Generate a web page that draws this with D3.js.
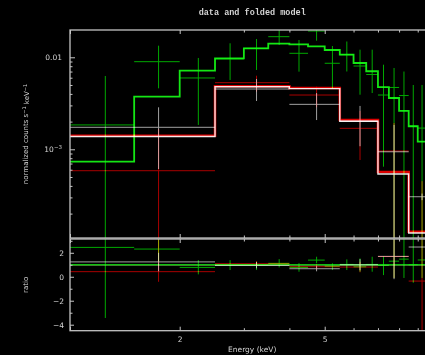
<!DOCTYPE html>
<html><head><meta charset="utf-8">
<script src="https://cdn.jsdelivr.net/npm/d3@7"></script>
<style>
html,body{margin:0;padding:0;background:#000;overflow:hidden;}
svg{display:block;background:#000;}
text{fill:#d4d4d4;}
.mark{mix-blend-mode:screen;}
</style></head><body>
<svg id="c" width="425" height="355"></svg>
<script>
// ---------- data ----------
const titleText = "data and folded model";
const xLabelText = "Energy (keV)";
const ratioLabelText = "ratio";

const energyMajor = [1, 2, 5, 10];
const energyLabeled = [2, 5];
const energyMinor = [3, 4, 6, 7, 8, 9];
const countMajor = [0.01, 0.001];
const countMinor = [0.009,0.008,0.007,0.006,0.005,0.004,0.003,0.002,
                    9e-4,8e-4,7e-4,6e-4,5e-4,4e-4,3e-4,2e-4];
const ratioMajor = [-4, -2, 0, 2];
const ratioMinor = [-3, -1, 1, 3];
const energyRange = [1, 10];
const countRange = [1.086e-4, 0.0198];
const ratioRange = [-4.5, 3.15];

// dataset 1 (grey)
const greyLo  = [1.0, 2.5, 4.0, 5.5, 7.0, 8.5];
const greyHi  = [2.5, 4.0, 5.5, 7.0, 8.5, 10.0];
const greyVal = [1.734e-3, 4.52e-3, 3.08e-3, 2.02e-3, 9.4e-4, 3.05e-4];
const greyUp  = [2.86e-3, 5.81e-3, 4.08e-3, 2.96e-3, 1.84e-3, 3.3e-4];
const greyDn  = [6.1e-4, 3.35e-3, 2.08e-3, 1.08e-3, 0, 2.8e-4];
const greyMod = [1.377e-3, 4.78e-3, 4.57e-3, 2.015e-3, 5.39e-4, 1.23e-4];
const greyRat   = [1.24, 0.946, 0.67, 1.0, 1.70, 2.48];
const greyRatUp = [2.0, 1.22, 0.89, 1.47, 3.4, 2.5];
const greyRatDn = [0.45, 0.70, 0.455, 0.54, -0.2, 2.46];

// dataset 2 (red)
const redLo  = [1.0, 2.5, 4.0, 5.5, 7.0, 8.5];
const redHi  = [2.5, 4.0, 5.5, 7.0, 8.5, 10.0];
const redVal = [5.85e-4, 5.3e-3, 3.89e-3, 1.69e-3, 9.58e-4, -5e-5];
const redUp  = [1.66e-3, 6.31e-3, 4.79e-3, 2.61e-3, 1.93e-3, 4.5e-4];
const redDn  = [0, 4.23e-3, 2.86e-3, 7.65e-4, 0, 0];
const redMod = [1.402e-3, 4.85e-3, 4.63e-3, 2.08e-3, 5.67e-4, 1.27e-4];
const redRat   = [0.425, 1.09, 0.84, 0.81, 1.69, -0.36];
const redRatUp = [3.6, 1.30, 1.03, 1.25, 3.4, 3.6];
const redRatDn = [-0.42, 0.87, 0.62, 0.37, -0.1, -4.8];

// dataset 3 (green)
const greenLo  = [1.0,1.5,2.0,2.5,3.0,3.5,4.0,4.5,5.0,5.5,6.0,6.5,7.0,7.5,8.0,8.5,9.0,9.5];
const greenHi  = [1.5,2.0,2.5,3.0,3.5,4.0,4.5,5.0,5.5,6.0,6.5,7.0,7.5,8.0,8.5,9.0,9.5,10.0];
const greenVal = [1.84e-3,8.96e-3,5.96e-3,9.58e-3,1.253e-2,1.675e-2,1.105e-2,1.93e-2,8.61e-3,1.067e-2,
                  8.04e-3,6.5e-3,3.89e-3,4.7e-3,3.84e-3,1.78e-3,1.7e-3,8.7e-4];
const greenUp  = [6.26e-3,1.337e-2,9.83e-3,1.42e-2,1.58e-2,2.1e-2,1.542e-2,2.4e-2,1.327e-2,1.485e-2,
                  1.21e-2,1.21e-2,8.31e-3,7.65e-3,7.0e-3,5.0e-3,5.0e-3,3.0e-3];
const greenDn  = [0,4.6e-3,1.84e-3,5.67e-3,7.28e-3,1.36e-2,6.98e-3,1.515e-2,4.6e-3,7.01e-3,
                  3.92e-3,4.09e-3,6.47e-4,0,0,0,0,0];
const greenMod = [7.33e-4,3.73e-3,7.15e-3,9.75e-3,1.253e-2,1.405e-2,1.38e-2,1.317e-2,1.2e-2,1.067e-2,
                  8.67e-3,7.05e-3,4.75e-3,3.61e-3,2.61e-3,1.78e-3,1.21e-3,8.67e-4];
const greenRat   = [2.45,2.31,0.78,0.975,0.98,1.12,0.78,1.39,0.89,1.03,0.83,1.03,0.95,1.3,1.47,1.0,1.4,1.0];
const greenRatUp = [3.6,3.4,1.39,1.39,1.25,1.47,1.14,1.67,1.12,1.45,1.53,1.67,1.67,3.6,3.6,3.6,3.6,3.6];
const greenRatDn = [-3.44,1.25,0.2,0.56,0.56,0.78,0.42,1.12,0.56,0.56,0.42,0.42,0.14,-0.1,-0.1,-0.5,-0.1,-1];

// ---------- layout ----------
const L = 70, R = 434.4, T1 = 30, B1 = 238, T2 = 239, B2 = 330.7;
const frameColor = "#c4c4c4";
const svg = d3.select("#c");

const x  = d3.scaleLog().domain(energyRange).range([L, R]);
const yC = d3.scaleLog().domain(countRange).range([B1, T1]);
const yR = d3.scaleLinear().domain(ratioRange).range([B2, T2]);

const defs = svg.append("defs");
defs.append("clipPath").attr("id","clipTop").append("rect")
  .attr("x", L).attr("y", T1).attr("width", R - L).attr("height", B1 - T1);
defs.append("clipPath").attr("id","clipBot").append("rect")
  .attr("x", L).attr("y", T2).attr("width", R - L).attr("height", B2 - T2);

const yCsafe = v => v > 0 ? yC(v) : B1 + 20;

const datasets = [
  {lo:greyLo, hi:greyHi, val:greyVal, up:greyUp, dn:greyDn, mod:greyMod,
   rat:greyRat, rup:greyRatUp, rdn:greyRatDn, dcol:"#a0a0a0", mcol:"#e6e6e6", rcol:"#8a8a8a", mw:1.4},
  {lo:redLo, hi:redHi, val:redVal, up:redUp, dn:redDn, mod:redMod,
   rat:redRat, rup:redRatUp, rdn:redRatDn, dcol:"#a80000", mcol:"#dd0000", rcol:"#a00000", mw:2.6},
  {lo:greenLo, hi:greenHi, val:greenVal, up:greenUp, dn:greenDn, mod:greenMod,
   rat:greenRat, rup:greenRatUp, rdn:greenRatDn, dcol:"#00a800", mcol:"#14e614", rcol:"#10c010", mw:1.8}
];

const gTop = svg.append("g").attr("clip-path","url(#clipTop)");
const gBot = svg.append("g").attr("clip-path","url(#clipBot)");

const line = d3.line();

// data crosses
function crosses(g, ds, yf, valKey, upKey, dnKey) {
  const grp = g.append("g").attr("class","mark");
  ds.lo.forEach((lo, i) => {
    const hi = ds.hi[i], c = (lo + hi) / 2;
    grp.append("path").attr("d", line([[x(lo), yf(ds[valKey][i])],[x(hi), yf(ds[valKey][i])]]))
      .attr("stroke", ds.dcol).attr("stroke-width", 1).attr("fill","none");
    grp.append("path").attr("d", line([[x(c), yf(ds[upKey][i])],[x(c), yf(ds[dnKey][i])]]))
      .attr("stroke", ds.dcol).attr("stroke-width", 1).attr("fill","none");
  });
}
function stepPts(ds, vals, yf) {
  const pts = [];
  ds.lo.forEach((lo, i) => { pts.push([x(lo), yf(vals[i])]); pts.push([x(ds.hi[i]), yf(vals[i])]); });
  return pts;
}

// top panel: data then models
datasets.forEach(ds => crosses(gTop, ds, yCsafe, "val", "up", "dn"));
[datasets[1], datasets[0], datasets[2]].forEach(ds => {
  gTop.append("path").attr("class","mark").attr("d", line(stepPts(ds, ds.mod, yCsafe)))
    .attr("stroke", ds.mcol).attr("stroke-width", ds.mw).attr("fill","none");
});

// bottom panel: model lines at unity (opaque, green on top), then ratio crosses
[datasets[1], datasets[0], datasets[2]].forEach(ds => {
  gBot.append("path").attr("d", line(stepPts(ds, ds.lo.map(() => 1), yR)))
    .attr("stroke", ds.rcol).attr("stroke-width", 1.6).attr("fill","none");
});
datasets.forEach(ds => crosses(gBot, ds, yR, "rat", "rup", "rdn"));

// ---------- frames & axes ----------
svg.append("rect").attr("x", L).attr("y", T1).attr("width", R - L).attr("height", B1 - T1)
  .attr("fill","none").attr("stroke", frameColor).attr("stroke-width", 1.3);
svg.append("rect").attr("x", L).attr("y", T2).attr("width", R - L).attr("height", B2 - T2)
  .attr("fill","none").attr("stroke", frameColor).attr("stroke-width", 1.3);

function styleAxis(g) {
  g.select(".domain").remove();
  g.selectAll(".tick line").attr("stroke", frameColor).attr("stroke-width", 1);
  g.selectAll(".tick text").attr("fill", "#d4d4d4")
    .attr("font-family", "DejaVu Sans, sans-serif").attr("font-size", 7.5);
}
// energy ticks on panel edges
[[T1, d3.axisTop], [B1, d3.axisBottom], [T2, d3.axisTop]].forEach(([yy, ax]) => {
  svg.append("g").attr("transform", `translate(0,${yy})`)
    .call(ax(x).tickValues(energyMajor).tickSize(-4).tickFormat("")).call(styleAxis);
  svg.append("g").attr("transform", `translate(0,${yy})`)
    .call(ax(x).tickValues(energyMinor).tickSize(-2.5).tickFormat("")).call(styleAxis);
});
svg.append("g").attr("transform", `translate(0,${B2})`)
  .call(d3.axisBottom(x).tickValues(energyMajor).tickSize(-4).tickPadding(6)
        .tickFormat(d => energyLabeled.includes(d) ? String(d) : "")).call(styleAxis);
svg.append("g").attr("transform", `translate(0,${B2})`)
  .call(d3.axisBottom(x).tickValues(energyMinor).tickSize(-2.5).tickFormat("")).call(styleAxis);

// count axis
svg.append("g").attr("transform", `translate(${L},0)`)
  .call(d3.axisLeft(yC).tickValues(countMajor).tickSize(-5).tickPadding(8)
        .tickFormat(d => d === 0.01 ? "0.01" : "")).call(styleAxis);
svg.append("g").attr("transform", `translate(${L},0)`)
  .call(d3.axisLeft(yC).tickValues(countMinor).tickSize(-2.5).tickFormat("")).call(styleAxis);
const t3 = svg.append("text").attr("x", L - 8).attr("y", yC(0.001)).attr("dy", "0.32em")
  .attr("text-anchor", "end").attr("font-family", "DejaVu Sans, sans-serif").attr("font-size", 7.5);
t3.append("tspan").text("10");
t3.append("tspan").attr("dy", "-0.45em").attr("font-size", 5.5).text("\u22123");

// ratio axis
svg.append("g").attr("transform", `translate(${L},0)`)
  .call(d3.axisLeft(yR).tickValues(ratioMajor).tickSize(-4).tickPadding(6)
        .tickFormat(d => d < 0 ? "\u2212" + Math.abs(d) : String(d))).call(styleAxis);
svg.append("g").attr("transform", `translate(${L},0)`)
  .call(d3.axisLeft(yR).tickValues(ratioMinor).tickSize(-2.5).tickFormat("")).call(styleAxis);

// ---------- texts ----------
svg.append("text").attr("x", (L + R) / 2).attr("y", 15).attr("text-anchor","middle")
  .attr("font-family","Liberation Mono, DejaVu Sans Mono, monospace").attr("font-size", 8.5)
  .attr("font-weight","bold").attr("fill","#cfcfcf").text(titleText);
svg.append("text").attr("x", (L + R) / 2).attr("y", 352).attr("text-anchor","middle")
  .attr("font-family","DejaVu Sans, sans-serif").attr("font-size", 7.5).text(xLabelText);
const yl = svg.append("text").attr("transform", `translate(28,${(T1 + B1) / 2}) rotate(-90)`)
  .attr("text-anchor","middle").attr("font-family","DejaVu Sans, sans-serif").attr("font-size", 7);
yl.append("tspan").text("normalized counts s");
yl.append("tspan").attr("dy","-0.45em").attr("font-size",5).text("\u22121");
yl.append("tspan").attr("dy","0.45em").text(" keV");
yl.append("tspan").attr("dy","-0.45em").attr("font-size",5).text("\u22121");
svg.append("text").attr("transform", `translate(28,${(T2 + B2) / 2}) rotate(-90)`)
  .attr("text-anchor","middle").attr("font-family","DejaVu Sans, sans-serif").attr("font-size", 7)
  .text(ratioLabelText);
</script>
</body></html>
